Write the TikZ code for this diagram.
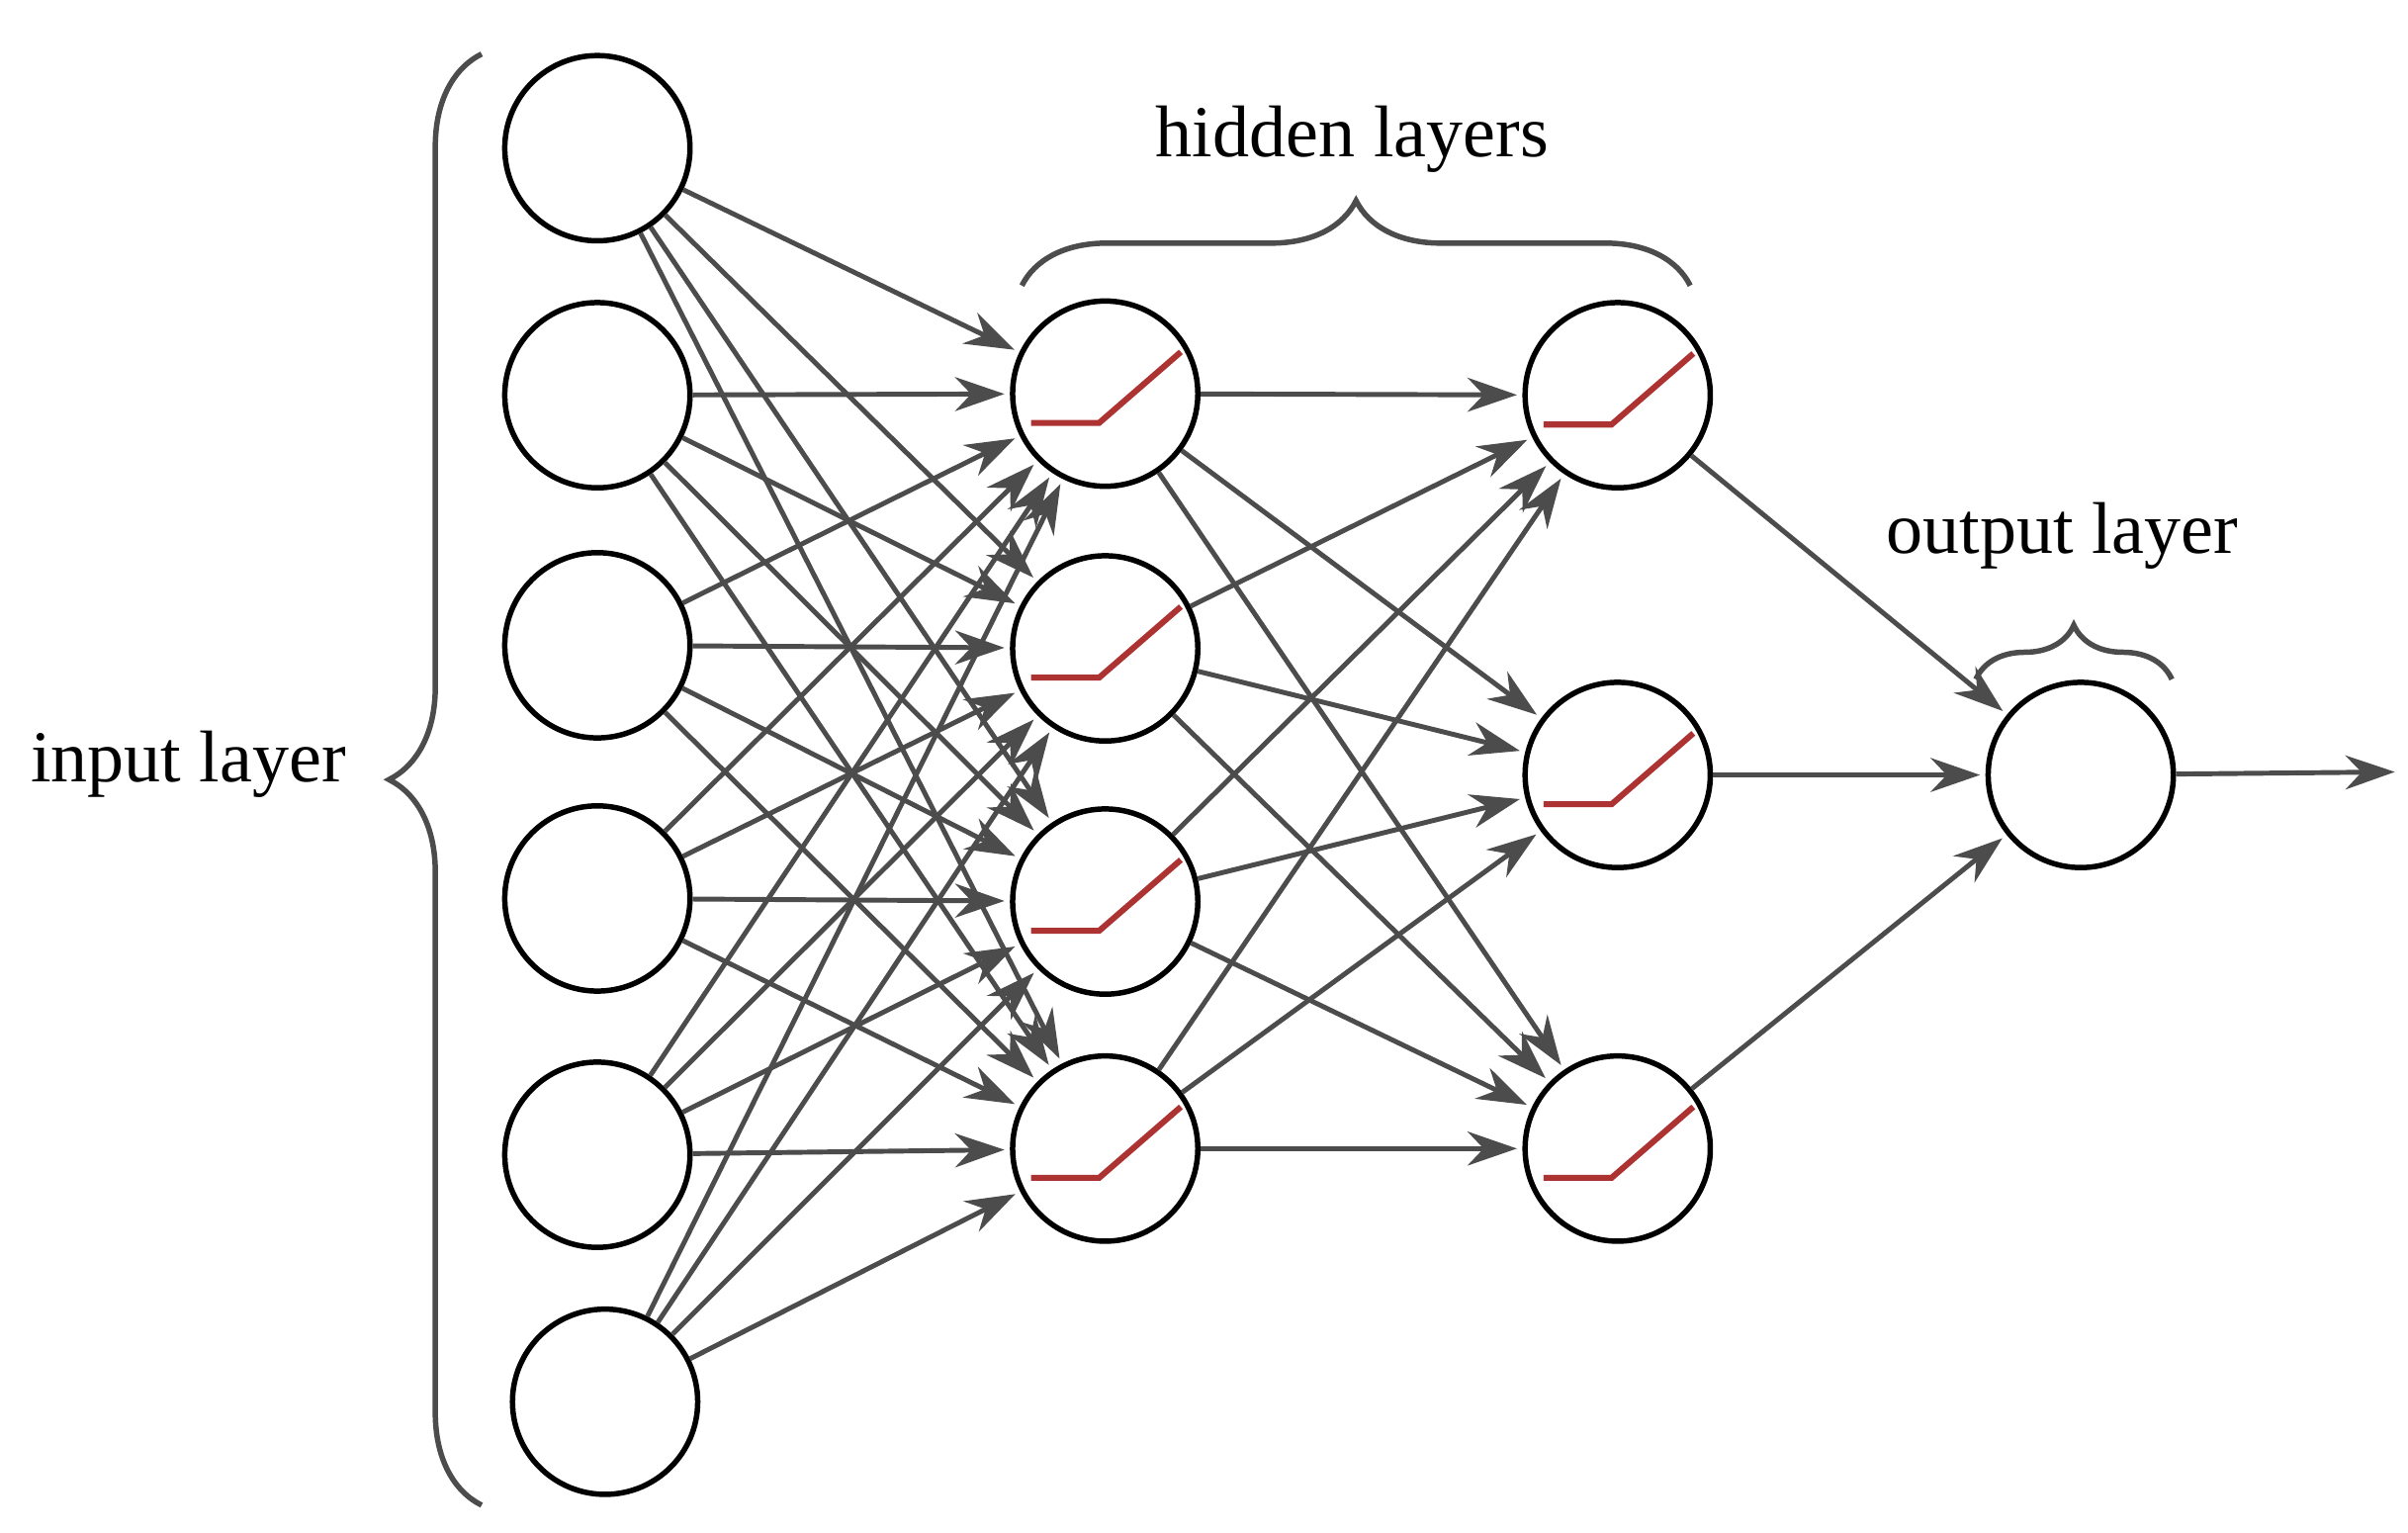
\documentclass[tikz,border=0pt]{standalone}
\usepackage{fontspec}
\setmainfont{Liberation Serif}
\usetikzlibrary{arrows.meta,decorations.pathreplacing}
\begin{document}
\begin{tikzpicture}[x=0.1mm,y=-0.1mm,
  neuron/.style={circle,draw=black,line width=1pt,minimum size=12mm,inner sep=0pt},
  edge/.style={draw=black!70,line width=0.9pt,-{Stealth[length=3.2mm,width=2.2mm]},shorten >=1pt},
  relu/.style={draw=red!60!black!80,line width=1.1pt},
  brace/.style={draw=black!70,line width=1pt,decorate},
  lbl/.style={font=\fontsize{13.5}{16}\selectfont}]
\useasboundingbox (0,0) rectangle (1560,993);
% input layer
\foreach \i/\x/\y in {1/387/96,2/387/256,3/387/418,4/387/582,5/387/748,6/392/908}
  \node[neuron] (i\i) at (\x,\y) {};
\foreach \i/\y in {1/255,2/420,3/584,4/744}
  \node[neuron] (a\i) at (716,\y) {};
\foreach \i/\y in {1/256,2/502,3/744}
  \node[neuron] (b\i) at (1048,\y) {};
\node[neuron] (o) at (1348,502) {};
\coordinate (out) at (1555,500);
% relu marks
\foreach \n in {a1,a2,a3,a4,b1,b2,b3}
  \draw[relu] ([shift={(-48,19)}]\n.center) -- ++(44,0) -- ++(53,-46);
% edges
\foreach \i in {1,...,6}
  \foreach \j in {1,...,4}
    \draw[edge] (i\i) -- (a\j);
\foreach \i in {1,...,4}
  \foreach \j in {1,...,3}
    \draw[edge] (a\i) -- (b\j);
\foreach \j in {1,...,3}
  \draw[edge] (b\j) -- (o);
\draw[edge] (o) -- (out);
% braces
\draw[brace,decoration={brace,amplitude=6mm,aspect=0.5}] (312,975) -- (312,35);
\draw[brace,decoration={brace,amplitude=5.5mm}] (662,185) -- (1095,185);
\draw[brace,decoration={brace,amplitude=3.5mm}] (1280,440) -- (1407,440);
\node[lbl] (tin) at (122,495) {input layer};
\node[lbl] (thid) at (876,90) {hidden layers};
\node[lbl] (tout) at (1336,347) {output layer};
\end{tikzpicture}
\end{document}
